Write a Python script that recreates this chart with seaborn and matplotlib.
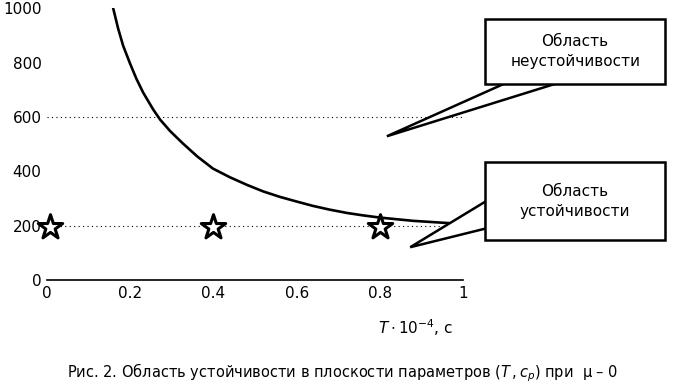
import numpy as np
import pandas as pd
import matplotlib
matplotlib.use('Agg')
import matplotlib.pyplot as plt
import seaborn as sns
from matplotlib.patches import Rectangle, Polygon

sns.set_theme(style='white')
plt.rcParams['font.family'] = ['DejaVu Sans']
plt.rcParams['text.color'] = 'black'

# boundary curve c_p(T)
T_curve = [0.159, 0.171, 0.183, 0.200, 0.215, 0.231, 0.255, 0.272, 0.296, 0.327,
           0.361, 0.399, 0.440, 0.481, 0.520, 0.560, 0.600, 0.639, 0.680, 0.721,
           0.760, 0.800, 0.880, 0.962, 1.0]
cp_curve = [1000, 925, 862, 795, 740, 690, 628, 590, 548, 502,
            455, 410, 378, 350, 326, 306, 289, 273, 259, 247,
            238, 230, 218, 210, 206]

# test points (stars)
T_pts = [0.008, 0.4, 0.8]
cp_pts = [195, 195, 195]

x_ticks = [0, 0.2, 0.4, 0.6, 0.8, 1]
x_ticklabels = ['0', '0.2', '0.4', '0.6', '0.8', '1']
y_ticks = [0, 200, 400, 600, 800, 1000]

curve = pd.DataFrame({'T': T_curve, 'cp': cp_curve})
pts = pd.DataFrame({'T': T_pts, 'cp': cp_pts})

fig = plt.figure(figsize=(6.86, 3.88), dpi=100)
ax = fig.add_axes([0.0685, 0.278, 0.6065, 0.701])

# sparse dotted grid as in the scan
for yv in [200, 600]:
    ax.axhline(yv, color='black', lw=0.8, ls=(0, (1, 3)), zorder=0)

sns.lineplot(data=curve, x='T', y='cp', ax=ax, color='black', lw=1.9, zorder=3)
sns.scatterplot(data=pts, x='T', y='cp', ax=ax, marker='*', s=340,
                facecolor='white', edgecolor='black', linewidth=2.2, zorder=4,
                clip_on=False)

ax.set_xlim(0, 1)
ax.set_ylim(0, 1000)
ax.set_xticks(x_ticks)
ax.set_xticklabels(x_ticklabels)
ax.set_yticks(y_ticks)
ax.tick_params(axis='both', labelsize=11, colors='black', length=2, width=0.8,
               direction='in', pad=4)
for s in ['top', 'right', 'left']:
    ax.spines[s].set_visible(False)
ax.spines['bottom'].set_color('black')
ax.spines['bottom'].set_linewidth(1.2)
ax.set_xlabel('')
ax.set_ylabel('')

# callouts
def callout(box, base1, base2, tip, text):
    poly = Polygon([base1, tip, base2], closed=True, facecolor='white',
                   edgecolor='black', lw=1.8, clip_on=False, zorder=5,
                   joinstyle='miter')
    ax.add_patch(poly)
    x0, y0, x1, y1 = box
    rect = Rectangle((x0, y0), x1 - x0, y1 - y0, facecolor='white',
                     edgecolor='black', lw=1.8, clip_on=False, zorder=6)
    ax.add_patch(rect)
    ax.text((x0 + x1) / 2, (y0 + y1) / 2, text, ha='center', va='center',
            fontsize=11, zorder=7, linespacing=1.4, color='black')

callout((1.053, 721, 1.486, 960), (1.125, 740), (1.26, 740), (0.817, 529),
        'Область\nнеустойчивости')
callout((1.053, 147, 1.486, 434), (1.055, 290), (1.055, 190), (0.873, 121),
        'Область\nустойчивости')

fig.text(0.605, 0.155, r'$T\cdot10^{-4}$, с', ha='center', va='center',
         fontsize=11, color='black')
fig.text(0.50, 0.04, r'Рис. 2. Область устойчивости в плоскости параметров $\left(T\,,c_p\right)$ при  μ – 0',
         ha='center', va='center', fontsize=10.5, color='black')

fig.savefig('out.png', dpi=100, facecolor='white')
